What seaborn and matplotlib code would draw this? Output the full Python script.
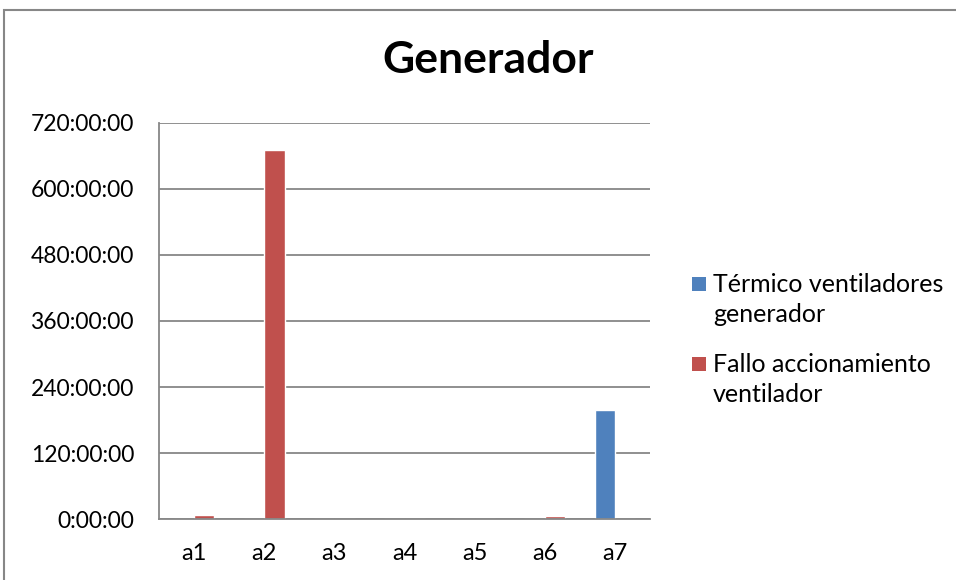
import matplotlib
matplotlib.use("Agg")
import matplotlib.pyplot as plt
from matplotlib.patches import Rectangle
from matplotlib.ticker import FuncFormatter
import pandas as pd
import seaborn as sns

# Downtime per turbine, in hours
categories = ["a1", "a2", "a3", "a4", "a5", "a6", "a7"]
termico_ventiladores = [0, 0, 0, 0, 0, 0, 198]
fallo_accionamiento = [8, 671, 0, 0, 0, 5, 0]
series_names = ["Térmico ventiladores\ngenerador", "Fallo accionamiento\nventilador"]
series_colors = ["#4F81BD", "#C0504D"]
y_ticks = [0, 120, 240, 360, 480, 600, 720]

df = pd.DataFrame({
    "turbina": categories * 2,
    "horas": termico_ventiladores + fallo_accionamiento,
    "serie": [series_names[0]] * len(categories) + [series_names[1]] * len(categories),
})

sns.set_theme(style="white")
plt.rcParams["font.family"] = ["Lato", "DejaVu Sans"]

W, H = 956, 580
fig = plt.figure(figsize=(W / 100, H / 100), dpi=100)
ax = fig.add_axes([159 / W, 61 / H, 491 / W, 396 / H])

sns.barplot(data=df, x="turbina", y="horas", hue="serie", order=categories,
            hue_order=series_names, palette=series_colors, width=0.58,
            saturation=1, ax=ax, legend=False)

ax.set_ylim(0, 720)
ax.set_yticks(y_ticks)
ax.yaxis.set_major_formatter(FuncFormatter(lambda v, p: f"{int(v)}:00:00"))
ax.set_xlabel("")
ax.set_ylabel("")
ax.grid(axis="y", color="#878787", linewidth=1.3)
ax.set_axisbelow(True)
for side in ["top", "right"]:
    ax.spines[side].set_visible(False)
for side in ["left", "bottom"]:
    ax.spines[side].set_color("#878787")
    ax.spines[side].set_linewidth(1.3)
ax.tick_params(axis="y", length=0, pad=18, labelsize=16.5, labelcolor="black")
ax.tick_params(axis="x", length=0, pad=17, labelsize=17, labelcolor="black")

fig.text(488 / W, 1 - 60 / H, "Generador", ha="center", va="center",
         fontsize=32, fontweight="bold", color="black")

# legend: colour square beside the first line of each two-line label
legend_rows = [(series_names[0], series_colors[0], 292),
               (series_names[1], series_colors[1], 372)]
for label, color, baseline in legend_rows:
    fig.patches.append(Rectangle((692 / W, 1 - (baseline - 1) / H), 14 / W, 14 / H,
                                 transform=fig.transFigure, facecolor=color,
                                 edgecolor="none"))
    for i, line in enumerate(label.split("\n")):
        fig.text(713 / W, 1 - (baseline + 30 * i) / H, line, ha="left",
                 va="baseline", fontsize=18, color="black")

# chart area border
fig.patches.append(Rectangle((4 / W, -0.05), 1.2, 1 - 10 / H + 0.05,
                             transform=fig.transFigure, fill=False,
                             edgecolor="#878787", linewidth=1.5))

fig.savefig("out.png", dpi=100)
